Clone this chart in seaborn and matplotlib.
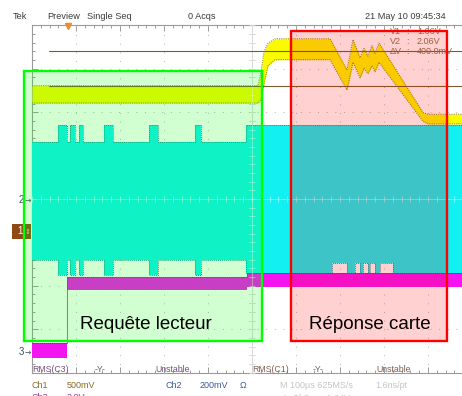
import matplotlib
matplotlib.use("Agg")
import matplotlib.pyplot as plt
from matplotlib.patches import Rectangle
from matplotlib.ticker import MultipleLocator
import numpy as np
import pandas as pd
import seaborn as sns

# ---- acquisition settings ----
time_per_div = 100.0      # µs / div
ch1_scale = 0.5           # V / div
ch2_scale = 0.2
ch3_scale = 2.0
ch1_offset_div = -0.709   # ground reference position (div)
ch2_offset_div = 0.0
ch3_offset_div = -3.525
trigger_time = -420.0     # µs
cursor_v1 = 1.66          # V
cursor_v2 = 2.06          # V
cursor_start = -461.0     # µs

# ---- Ch1 (yellow): envelope of the trace, V ----
ch1_t = [-500, 13.6, 20.5, 27.3, 36.4, 52.3, 177.3, 215.9, 229.5, 245.5,
         254.5, 263.6, 272.7, 279.5, 288.6, 388.6, 400.0, 500]
ch1_hi = [1.66, 1.66, 1.82, 2.05, 2.15, 2.20, 2.20, 1.84, 2.19, 1.98,
          2.09, 2.00, 2.12, 2.03, 2.15, 1.35, 1.33, 1.33]
ch1_lo = [1.46, 1.46, 1.50, 1.68, 1.89, 1.96, 1.96, 1.61, 1.93, 1.75,
          1.86, 1.80, 1.89, 1.82, 1.93, 1.25, 1.22, 1.22]

# ---- Ch2 (cyan): modulated carrier envelope, V (steps) ----
ch2_t = [-500, -440.9, -420.5, -413.6, -402.3, -393.2, -384.1, -336.4, -315.9,
         -234.1, -213.6, -129.5, -115.9, -13.6, 181.8, 215.9, 234.1, 245.5,
         252.3, 263.6, 268.2, 279.5, 290.9, 320.5, 500]
ch2_hi = [0.263, 0.341, 0.263, 0.341, 0.263, 0.341, 0.263, 0.341, 0.263,
          0.341, 0.263, 0.341, 0.263, 0.341, 0.341, 0.341, 0.341, 0.341,
          0.341, 0.341, 0.341, 0.341, 0.341, 0.341, 0.341]
ch2_lo = [-0.281, -0.350, -0.281, -0.350, -0.281, -0.350, -0.281, -0.350, -0.281,
          -0.350, -0.281, -0.350, -0.281, -0.341, -0.295, -0.341, -0.295, -0.341,
          -0.295, -0.341, -0.295, -0.341, -0.295, -0.341, -0.341]

# ---- Ch3 (magenta): envelope, V (steps) ----
ch3_t = [-500, trigger_time, -11.4, 500]
ch3_hi = [0.41, 3.46, 3.64, 3.64]
ch3_lo = [-0.28, 2.86, 2.99, 2.99]

# ---- annotation boxes (µs, div) ----
request_box = (-518.0, 22.7, -3.27, 2.95)
response_box = (88.6, 443.2, -3.27, 3.87)
request_label = "Requête lecteur"
response_label = "Réponse carte"


def to_div(values, scale, offset):
    return np.asarray(values, dtype=float) / scale + offset


sns.set_style("white")
plt.rcParams["font.family"] = ["Liberation Sans", "DejaVu Sans"]

W, H = 462, 396
fig = plt.figure(figsize=(W / 100, H / 100), dpi=100)
fig.patch.set_facecolor("white")


def fx(px):
    return px / W


def fy(py):
    return 1 - py / H


# graticule occupies 10 x 8 divisions; the right part runs past the frame
ax = fig.add_axes([fx(32), fy(372.6), 440 / W, (372.6 - 25.4) / H])
ax.set_xlim(-5 * time_per_div, 5 * time_per_div)
ax.set_ylim(-4, 4)
ax.set_facecolor("white")

ax.xaxis.set_major_locator(MultipleLocator(time_per_div))
ax.xaxis.set_minor_locator(MultipleLocator(time_per_div / 5))
ax.yaxis.set_major_locator(MultipleLocator(1))
ax.yaxis.set_minor_locator(MultipleLocator(0.2))
ax.tick_params(which="both", direction="in", top=True, bottom=True, left=True,
               right=False, labelbottom=False, labelleft=False,
               color="#9a9a9a", width=0.7)
ax.tick_params(which="major", length=4.0)
ax.tick_params(which="minor", length=2.4)
for name, sp in ax.spines.items():
    sp.set_color("#9a9a9a")
    sp.set_linewidth(0.8)
ax.spines["right"].set_visible(False)
ax.set_xlabel("")
ax.set_ylabel("")

# dotted graticule
for xv in np.arange(-400, 500, 100):
    ax.axvline(xv, color="#b4b4b4", lw=0.7, ls=(0, (1, 7.9)), zorder=1)
for yv in np.arange(-3, 4, 1):
    ax.axhline(yv, color="#b4b4b4", lw=0.7, ls=(0, (1, 7.9)), zorder=1)

minor_x = np.arange(-500, 501, 20)
minor_y = np.arange(-4, 4.01, 0.2)
ax.axhline(0, color="#b8b8b8", lw=0.7, zorder=1.5)
ax.axvline(0, color="#b8b8b8", lw=0.7, zorder=1.5)
ax.plot(minor_x, np.zeros_like(minor_x), ls="none", marker="|", ms=5,
        mew=0.7, color="#b8b8b8", zorder=1.5)
ax.plot(np.zeros_like(minor_y), minor_y, ls="none", marker="_", ms=5,
        mew=0.7, color="#b8b8b8", zorder=1.5)

# ---- traces ----
c1_hi = to_div(ch1_hi, ch1_scale, ch1_offset_div)
c1_lo = to_div(ch1_lo, ch1_scale, ch1_offset_div)
c2_hi = to_div(ch2_hi, ch2_scale, ch2_offset_div)
c2_lo = to_div(ch2_lo, ch2_scale, ch2_offset_div)
c3_hi = to_div(ch3_hi, ch3_scale, ch3_offset_div)
c3_lo = to_div(ch3_lo, ch3_scale, ch3_offset_div)

ax.fill_between(ch2_t, c2_lo, c2_hi, step="post", color="#12f0f2", lw=0, zorder=3)
ax.fill_between(ch3_t, c3_lo, c3_hi, step="post", color="#f414f0", lw=0, zorder=4)
ax.fill_between(ch1_t, c1_lo, c1_hi, color="#fafa00", lw=0, zorder=5)

edges_step = pd.concat([
    pd.DataFrame({"t": ch2_t, "div": c2_hi, "edge": "ch2_hi"}),
    pd.DataFrame({"t": ch2_t, "div": c2_lo, "edge": "ch2_lo"}),
])
sns.lineplot(data=edges_step, x="t", y="div", units="edge", estimator=None,
             sort=False, color="#1a9a9a", lw=0.7, ls=(0, (1, 1)),
             drawstyle="steps-post", ax=ax, zorder=3.5, legend=False)
sns.lineplot(x=ch3_t, y=c3_hi, estimator=None, sort=False, color="#8a1a8a",
             lw=0.7, ls=(0, (1, 1)), drawstyle="steps-post", ax=ax, zorder=4.5)

# rising edge of Ch3 at the trigger
sns.lineplot(x=[trigger_time, trigger_time], y=[c3_hi[0], c3_lo[1]],
             estimator=None, sort=False, color="#8a8a78", lw=0.8, ax=ax,
             zorder=4.5)

edges_ch1 = pd.concat([
    pd.DataFrame({"t": ch1_t, "div": c1_hi, "edge": "hi"}),
    pd.DataFrame({"t": ch1_t, "div": c1_lo, "edge": "lo"}),
])
sns.lineplot(data=edges_ch1, x="t", y="div", units="edge", estimator=None,
             sort=False, color="#9a9400", lw=0.8, ls=(0, (1, 1)), ax=ax,
             zorder=5.5, legend=False)

# center cross lightly over the traces
ax.axhline(0, color="white", lw=0.7, alpha=0.45, zorder=6)
ax.axvline(0, color="white", lw=0.7, alpha=0.45, zorder=6)
ax.plot(minor_x, np.zeros_like(minor_x), ls="none", marker="|", ms=5,
        mew=0.7, color="white", alpha=0.45, zorder=6)
ax.plot(np.zeros_like(minor_y), minor_y, ls="none", marker="_", ms=5,
        mew=0.7, color="white", alpha=0.45, zorder=6)

# ---- horizontal bar cursors ----
for v in (cursor_v1, cursor_v2):
    yv = v / ch1_scale + ch1_offset_div
    sns.lineplot(x=[cursor_start, 500], y=[yv, yv], estimator=None,
                 color="#7a5c30", lw=0.8, ax=ax, zorder=6.5)

readout_color = "#8a7450"
readout = [("V1", f"{cursor_v1:.2f}V", 32), ("V2", f"{cursor_v2:.2f}V", 42),
           ("ΔV", f"{(cursor_v2 - cursor_v1) * 1000:.1f}mV", 51)]
for name, val, py in readout:
    ax.text(fx(390), fy(py), name, transform=fig.transFigure, fontsize=6.5,
            color=readout_color, va="center", ha="left", zorder=7)
    ax.text(fx(406), fy(py), ":", transform=fig.transFigure, fontsize=6.5,
            color=readout_color, va="center", ha="left", zorder=7)
    ax.text(fx(417), fy(py), val, transform=fig.transFigure, fontsize=6.5,
            color=readout_color, va="center", ha="left", zorder=7)

# trigger position marker
ax.plot([trigger_time + 2], [3.98], marker="v", ms=5, color="#f08a30",
        clip_on=False, zorder=7)

# channel reference markers
ax.text(fx(21), fy(200), "2", transform=fig.transFigure, fontsize=7,
        color="#3c4a66", va="center", ha="center", zorder=7)
ax.text(fx(28), fy(200), "→", transform=fig.transFigure, fontsize=5.5,
        color="#3c4a66", va="center", ha="center", zorder=7,
        family="DejaVu Sans")
ax.text(fx(21), fy(352), "3", transform=fig.transFigure, fontsize=7,
        color="#3c4a66", va="center", ha="center", zorder=7)
ax.text(fx(28), fy(352), "→", transform=fig.transFigure, fontsize=5.5,
        color="#3c4a66", va="center", ha="center", zorder=7,
        family="DejaVu Sans")
ax.add_patch(Rectangle((fx(12), fy(238.5)), fx(19.5), 14.5 / H,
                       transform=fig.transFigure, facecolor="#8e4a12",
                       edgecolor="none", clip_on=False, zorder=7))
ax.text(fx(19.5), fy(231.5), "1", transform=fig.transFigure, fontsize=7,
        color="white", va="center", ha="center", zorder=7.2)
ax.text(fx(28), fy(231.5), "⇕", transform=fig.transFigure, fontsize=5,
        color="#e8d8c8", va="center", ha="center", zorder=7.2,
        family="DejaVu Sans")

# ---- highlighted phases ----
for (t0, t1, d0, d1), col, lab in ((request_box, "#00ff00", request_label),
                                    (response_box, "#ff0000", response_label)):
    ax.add_patch(Rectangle((t0, d0), t1 - t0, d1 - d0, facecolor=col,
                           alpha=0.18, edgecolor="none", clip_on=False,
                           zorder=8))
    ax.add_patch(Rectangle((t0, d0), t1 - t0, d1 - d0, facecolor="none",
                           edgecolor=col, lw=1.7, clip_on=False, zorder=9))

ax.text(-240.9, -2.90, request_label, fontsize=13.5, color="black",
        ha="center", va="center", zorder=10)
ax.text(268.0, -2.90, response_label, fontsize=13.5, color="black",
        ha="center", va="center", zorder=10)

# ---- header ----
hdr_color = "#3a3a3a"
for px, s in ((13, "Tek"), (47, "Preview"), (87, "Single Seq"),
              (188, "0 Acqs"), (365, "21 May 10 09:45:34")):
    fig.text(fx(px), fy(16.5), s, fontsize=6.6, color=hdr_color,
             va="center", ha="left")

# ---- measurement row and settings ----
c3_col, c1_col = "#74507e", "#7c6050"
for px, s, c in ((32, "RMS(C3)", c3_col), (95, "-Y-", c3_col),
                 (155, "Unstable", c3_col), (252, "RMS(C1)", c1_col),
                 (313, "-Y-", c1_col), (376, "Unstable", c1_col)):
    fig.text(fx(px), fy(369), s, fontsize=6.3, color=c, va="center", ha="left")

ch1_col, ch2_col, ch3_col, dim = "#8a6a24", "#3a5a9a", "#9a3a9a", "#c4c4c4"
for px, py, s, c in ((32, 385, "Ch1", ch1_col), (67, 385, "500mV", ch1_col),
                     (165, 385, "Ch2", ch2_col), (200, 385, "200mV", ch2_col),
                     (240, 385, "Ω", ch2_col),
                     (280, 385, "M 100µs 625MS/s", dim),
                     (375, 385, "1.6ns/pt", dim),
                     (32, 398, "Ch3", ch3_col), (67, 398, "2.0V", ch3_col),
                     (282, 398, "A  Ch3  ↗  1.64V", dim)):
    fig.text(fx(px), fy(py), s, fontsize=6.5, color=c, va="center", ha="left")

fig.savefig("out.png", dpi=100, facecolor="white")
